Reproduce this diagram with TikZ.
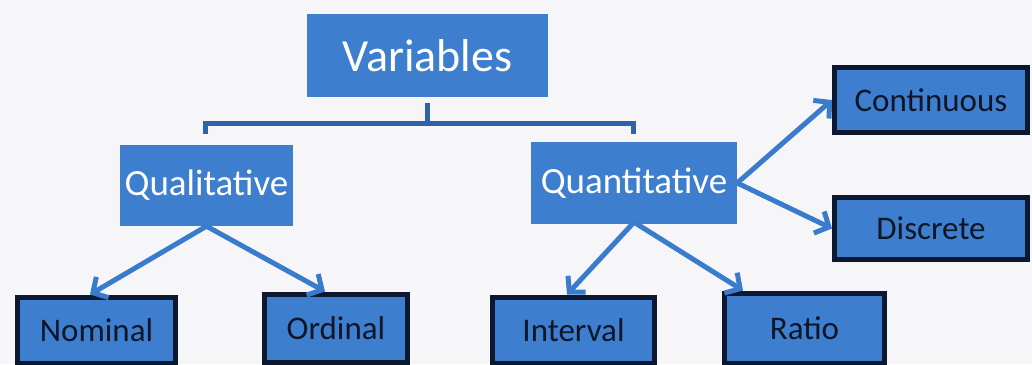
\documentclass[tikz,border=0pt]{standalone}
\usepackage{fontspec}
\setmainfont{Carlito}
\usetikzlibrary{arrows.meta}
\definecolor{boxblue}{RGB}{62,126,206}
\definecolor{linkblue}{RGB}{58,124,204}
\definecolor{brackblue}{RGB}{46,98,170}
\definecolor{navy}{RGB}{12,24,48}
\definecolor{inktxt}{RGB}{14,22,40}
\definecolor{paper}{RGB}{246,246,248}
\tikzset{
  topbox/.style={fill=boxblue, draw=none, text=white, inner sep=0pt, align=center},
  leafbox/.style={fill=boxblue, draw=navy, line width=5pt, text=inktxt, inner sep=0pt, align=center,
    font=\fontsize{33}{36}\selectfont},
  link/.style={draw=linkblue, line width=5pt, -{Straight Barb[length=11pt,width=24pt,line width=5pt]}},
  bracket/.style={draw=brackblue, line width=5pt}
}
\begin{document}
\begin{tikzpicture}[x=1pt,y=-1pt]
\fill[paper] (0,0) rectangle (1032,364);
\useasboundingbox (0,0) rectangle (1032,364);
\clip (0,0) rectangle (1032,364);
% top level
\node[topbox, minimum width=241pt, minimum height=83pt, font=\fontsize{46}{50}\selectfont] (var) at (427.5,55.5) {Variables};
\node[topbox, minimum width=173pt, minimum height=81pt, font=\fontsize{37}{40}\selectfont] (qual) at (206.5,185.5) {Qualitative};
\node[topbox, minimum width=206pt, minimum height=82pt, font=\fontsize{37}{40}\selectfont] (quant) at (634,183) {Quantitative};
% leaves
\node[leafbox, minimum width=193pt, minimum height=65pt] (cont) at (931,100) {Continuous};
\node[leafbox, minimum width=193pt, minimum height=62pt] (disc) at (931,228.5) {Discrete};
\node[leafbox, minimum width=158pt, minimum height=66pt] (nom) at (96.5,330) {Nominal};
\node[leafbox, minimum width=143pt, minimum height=68pt] (ord) at (336,328) {Ordinal};
\node[leafbox, minimum width=162pt, minimum height=66pt] (int) at (573.5,330) {Interval};
\node[leafbox, minimum width=160pt, minimum height=70pt] (rat) at (804.5,328) {Ratio};
% bracket
\coordinate (stem) at (427,103);
\coordinate (joint) at (427,123);
\coordinate (bl) at (205,134);
\coordinate (br) at (633,134);
\draw[bracket] (stem) -- (joint);
\draw[bracket] (bl) |- (joint) -| (br);
% arrows
\draw[link] (qual.south) -- (nom.north -| 90,0);
\draw[link] (qual.south) -- (ord.north -| 325,0);
\draw[link] ([yshift=2pt]quant.south) -- (int.north -| 567,0);
\draw[link] ([yshift=2pt]quant.south) -- (rat.north -| 743,0);
\draw[link] (quant.east) -- (cont.west);
\draw[link] (quant.east) -- (disc.west);
\end{tikzpicture}
\end{document}
